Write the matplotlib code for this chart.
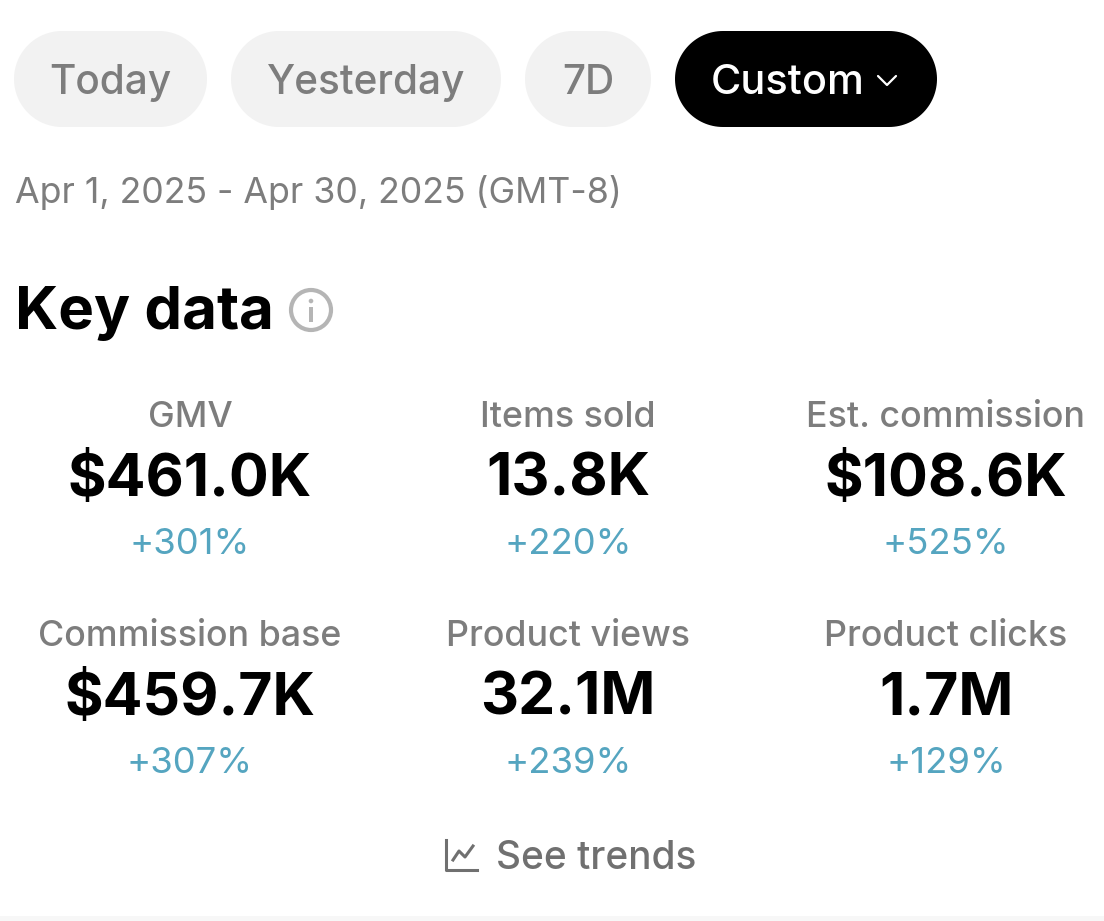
import numpy as np
import matplotlib
matplotlib.use("Agg")
import matplotlib.pyplot as plt
from matplotlib.patches import Polygon, Circle, Rectangle

# data
tab_labels = ["Today", "Yesterday", "7D"]
active_tab = "Custom"
date_range = "Apr 1, 2025 - Apr 30, 2025 (GMT-8)"
section_title = "Key data"
metric_names = ["GMV", "Items sold", "Est. commission", "Commission base", "Product views", "Product clicks"]
metric_values = ["$461.0K", "13.8K", "$108.6K", "$459.7K", "32.1M", "1.7M"]
metric_changes = ["+301%", "+220%", "+525%", "+307%", "+239%", "+129%"]
trend_label = "See trends"

W, H = 1104, 921
plt.rcParams["font.family"] = ["Inter", "Roboto", "DejaVu Sans"]

# 1 data unit = 1 pixel, y goes down like the screenshot
fig = plt.figure(figsize=(W / 100, H / 100), dpi=100)
ax = fig.add_axes([0, 0, 1, 1])
ax.set_xlim(0, W)
ax.set_ylim(H, 0)
ax.axis("off")

GREY = "#7d7d7d"
BLUE = "#55a5c0"


def px(size):
    return size * 0.72


def pill(x0, x1, color):
    # stadium outline
    y0, y1 = 31, 127
    r = 48
    t = np.linspace(-np.pi / 2, np.pi / 2, 60)
    xs = np.concatenate([x1 - r + r * np.cos(t), x0 + r - r * np.cos(t)])
    ys = np.concatenate([y0 + r + r * np.sin(t), y0 + r + r * np.sin(t[::-1])])
    ax.add_patch(Polygon(np.column_stack([xs, ys]), closed=True, fc=color, ec="none"))


tab_edges = [(14, 207), (231, 501), (525, 651)]
for label, (x0, x1) in zip(tab_labels, tab_edges):
    pill(x0, x1, "#f2f2f2")
    ax.text((x0 + x1) / 2, 79, label, ha="center", va="center_baseline", color=GREY,
            fontsize=px(40.5), fontweight="medium")

pill(675, 937, "black")
ax.text(711, 79, active_tab, ha="left", va="center_baseline", color="white",
        fontsize=px(41.5), fontweight="medium")
ax.plot([878, 887, 896], [76, 85, 76], color="white", lw=1.6, solid_capstyle="round")

ax.text(15, 189, date_range, ha="left", va="center_baseline", color=GREY, fontsize=px(35.7))

ax.text(15, 307, section_title, ha="left", va="center_baseline", color="black",
        fontsize=px(60), fontweight="bold")

# info icon
ax.add_patch(Circle((311, 310), 20, fc="none", ec="#b5b5b5", lw=3))
ax.add_patch(Circle((311, 301), 2.3, fc="#b5b5b5", ec="none"))
ax.add_patch(Rectangle((309.2, 307), 3.6, 15, fc="#b5b5b5", ec="none"))

# metric grid
col_x = [190, 568, 946]
row_y = [0, 219]
for i, name in enumerate(metric_names):
    x = col_x[i % 3]
    dy = row_y[i // 3]
    ax.text(x, 414 + dy, name, ha="center", va="center_baseline", color=GREY,
            fontsize=px(35.8), fontweight="medium")
    ax.text(x, 474 + dy, metric_values[i], ha="center", va="center_baseline", color="black",
            fontsize=px(59), fontweight="bold")
    ax.text(x, 541 + dy, metric_changes[i], ha="center", va="center_baseline", color=BLUE,
            fontsize=px(36.5))

# chart icon next to See trends
ax.plot([446, 446, 477], [840, 870, 870], color="#707070", lw=2.2, solid_joinstyle="round")
ax.plot([453, 459, 465, 473], [860, 851, 857, 846], color="#707070", lw=2.2, solid_joinstyle="round")
ax.text(496, 854, trend_label, ha="left", va="center_baseline", color="#707070",
        fontsize=px(38.7), fontweight="medium")

ax.add_patch(Rectangle((0, 916), W, 5, fc="#f7f7f7", ec="none"))

fig.savefig("out.png", dpi=100)
